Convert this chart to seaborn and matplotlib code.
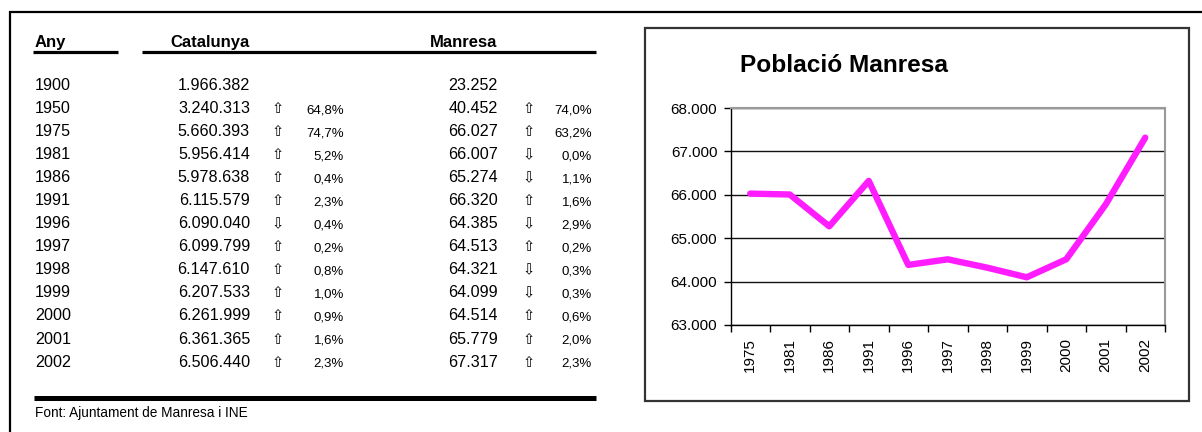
import matplotlib
matplotlib.use("Agg")
import matplotlib.pyplot as plt
from matplotlib.lines import Line2D
from matplotlib.patches import Rectangle
from matplotlib.ticker import FixedLocator, FuncFormatter
import numpy as np
import pandas as pd
import seaborn as sns

# ---------------- data ----------------
years = [1900, 1950, 1975, 1981, 1986, 1991, 1996, 1997, 1998, 1999, 2000, 2001, 2002]
cat_pop = [1966382, 3240313, 5660393, 5956414, 5978638, 6115579, 6090040,
           6099799, 6147610, 6207533, 6261999, 6361365, 6506440]
cat_pct = [None, 64.8, 74.7, 5.2, 0.4, 2.3, 0.4, 0.2, 0.8, 1.0, 0.9, 1.6, 2.3]
cat_dir = ["", "up", "up", "up", "up", "up", "down", "up", "up", "up", "up", "up", "up"]
man_pop = [23252, 40452, 66027, 66007, 65274, 66320, 64385, 64513, 64321,
           64099, 64514, 65779, 67317]
man_pct = [None, 74.0, 63.2, 0.0, 1.1, 1.6, 2.9, 0.2, 0.3, 0.3, 0.6, 2.0, 2.3]
man_dir = ["", "up", "up", "down", "down", "up", "down", "up", "down", "down", "up", "up", "up"]

chart_years = ["1975", "1981", "1986", "1991", "1996", "1997", "1998",
               "1999", "2000", "2001", "2002"]
chart_values = [66027, 66007, 65274, 66320, 64385, 64513, 64321,
                64099, 64514, 65779, 67317]

header_any = "Any"
header_cat = "Catalunya"
header_man = "Manresa"
footer = "Font: Ajuntament de Manresa i INE"
chart_title = "Població Manresa"

# ---------------- style ----------------
sns.set_style("white")
plt.rcParams["font.family"] = ["Liberation Sans", "DejaVu Sans"]
plt.rcParams["text.color"] = "black"
plt.rcParams["xtick.color"] = "black"
plt.rcParams["ytick.color"] = "black"
plt.rcParams["axes.labelcolor"] = "black"

W, H = 1202, 432
fig = plt.figure(figsize=(W / 100, H / 100), dpi=100)
fig.patch.set_facecolor("white")


def fx(x):
    return x / W


def fy(y):
    return 1 - y / H


def hline(x0, x1, y, lw, color="black"):
    fig.add_artist(Line2D([fx(x0), fx(x1)], [fy(y), fy(y)], transform=fig.transFigure,
                          lw=lw, color=color, solid_capstyle="butt"))


def vline(x, y0, y1, lw, color="black"):
    fig.add_artist(Line2D([fx(x), fx(x)], [fy(y0), fy(y1)], transform=fig.transFigure,
                          lw=lw, color=color, solid_capstyle="butt"))


def fmt_int(v):
    return f"{v:,}".replace(",", ".")


def fmt_pct(p):
    return f"{p:.1f}%".replace(".", ",")


arrows = {"up": "\u21e7", "down": "\u21e9", "": ""}

# outer frame
hline(9, W, 11.5, 1.6)
vline(10, 10.7, H, 1.6)

# ---------------- table ----------------
txt_main = 11.6
txt_pct = 9.5
hdr_base = 47
fig.text(fx(35), fy(hdr_base), header_any, fontsize=12, fontweight="bold",
         ha="left", va="baseline")
fig.text(fx(210), fy(hdr_base), header_cat, fontsize=12, fontweight="bold",
         ha="center", va="baseline")
fig.text(fx(464), fy(hdr_base), header_man, fontsize=12, fontweight="bold",
         ha="center", va="baseline")
hline(33, 118, 52, 2.3)
hline(142, 596, 52, 2.3)

row0 = 90
step = 23.05
for i, yr in enumerate(years):
    yb = row0 + i * step
    fig.text(fx(35), fy(yb), str(yr), fontsize=txt_main, ha="left", va="baseline")
    fig.text(fx(250), fy(yb), fmt_int(cat_pop[i]), fontsize=txt_main, ha="right", va="baseline")
    fig.text(fx(498), fy(yb), fmt_int(man_pop[i]), fontsize=txt_main, ha="right", va="baseline")
    if cat_pct[i] is not None:
        fig.text(fx(278), fy(yb), arrows[cat_dir[i]], fontsize=10.5, ha="center",
                 va="baseline", family=["DejaVu Sans"])
        fig.text(fx(344), fy(yb), fmt_pct(cat_pct[i]), fontsize=txt_pct, ha="right", va="baseline")
    if man_pct[i] is not None:
        fig.text(fx(529), fy(yb), arrows[man_dir[i]], fontsize=10.5, ha="center",
                 va="baseline", family=["DejaVu Sans"])
        fig.text(fx(592), fy(yb), fmt_pct(man_pct[i]), fontsize=txt_pct, ha="right", va="baseline")

hline(34, 596, 397.5, 3.6)
fig.text(fx(35), fy(417), footer, fontsize=9.8, ha="left", va="baseline")

# ---------------- chart ----------------
fig.add_artist(Rectangle((fx(645), fy(401)), (1189 - 645) / W, (401 - 28) / H,
                         fill=False, edgecolor="#333333", lw=1.6, transform=fig.transFigure))
fig.text(fx(844), fy(72), chart_title, fontsize=17.6, fontweight="bold",
         ha="center", va="baseline")

left, right, top, bottom = 730.5, 1165, 108, 325
ax = fig.add_axes([fx(left), fy(bottom), (right - left) / W, (bottom - top) / H])
df = pd.DataFrame({"pos": np.arange(len(chart_years)), "value": chart_values})
sns.lineplot(data=df, x="pos", y="value", ax=ax, color="#ff1cff", lw=4.6,
             solid_joinstyle="round", solid_capstyle="round")

ax.set_xlim(-0.5, len(chart_years) - 0.5)
ax.set_ylim(63000, 68000)
ax.set_xlabel("")
ax.set_ylabel("")
ax.set_yticks(np.arange(63000, 68001, 1000))
ax.yaxis.set_major_formatter(FuncFormatter(lambda v, p: fmt_int(int(v))))
ax.set_xticks(np.arange(len(chart_years)))
ax.set_xticklabels(chart_years, rotation=90)
ax.xaxis.set_minor_locator(FixedLocator(np.arange(-0.5, len(chart_years), 1.0)))
ax.tick_params(axis="x", which="major", length=0, pad=9.4, labelsize=11)
ax.tick_params(axis="x", which="minor", length=5, width=1, direction="out", color="black",
               bottom=True)
ax.tick_params(axis="y", which="major", length=5, width=1, direction="out", color="black",
               pad=4.5, labelsize=11, left=True)
ax.grid(axis="y", color="#111111", lw=1)
ax.grid(axis="x", visible=False)
ax.set_axisbelow(True)
for s in ["top", "right"]:
    ax.spines[s].set_color("#999999")
    ax.spines[s].set_linewidth(1.5)
for s in ["left", "bottom"]:
    ax.spines[s].set_color("black")
    ax.spines[s].set_linewidth(1)

fig.savefig("out.png", dpi=100)
